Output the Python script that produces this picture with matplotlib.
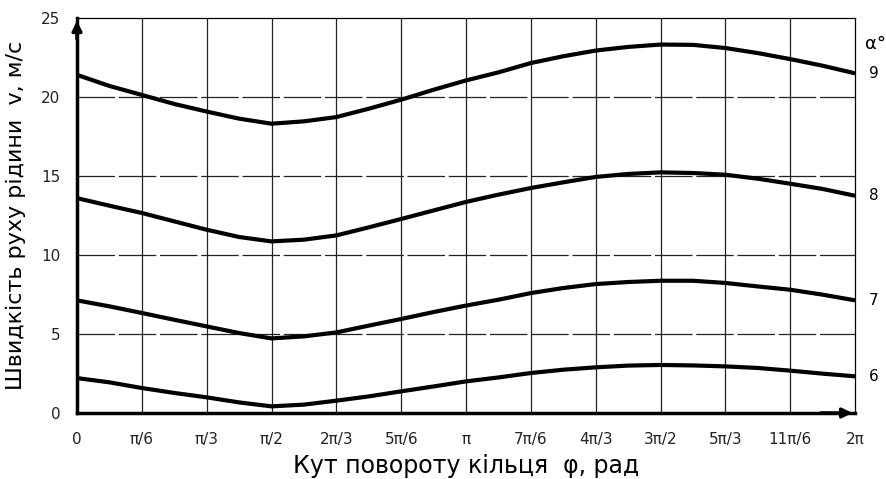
import numpy as np
import matplotlib.pyplot as plt

# phase angle sampled every pi/12 (25 points from 0 to 2*pi)
phi_steps = np.arange(25)
tick_labels = ["0", "π/6", "π/3", "π/2", "2π/3", "5π/6", "π",
               "7π/6", "4π/3", "3π/2", "5π/3", "11π/6", "2π"]

alpha_6 = [2.21, 1.94, 1.58, 1.27, 0.99, 0.67, 0.42, 0.53, 0.78, 1.05, 1.37, 1.68, 2.0,
           2.25, 2.53, 2.74, 2.89, 3.0, 3.04, 3.01, 2.95, 2.85, 2.68, 2.49, 2.32]
alpha_7 = [7.13, 6.75, 6.33, 5.9, 5.48, 5.06, 4.72, 4.85, 5.1, 5.53, 5.95, 6.39, 6.8,
           7.17, 7.59, 7.91, 8.16, 8.29, 8.37, 8.37, 8.23, 8.01, 7.8, 7.49, 7.13]
alpha_8 = [13.6, 13.12, 12.66, 12.13, 11.6, 11.14, 10.86, 10.97, 11.24, 11.75, 12.28, 12.82, 13.36,
           13.82, 14.24, 14.6, 14.94, 15.13, 15.23, 15.19, 15.08, 14.83, 14.51, 14.18, 13.75]
alpha_9 = [21.4, 20.7, 20.13, 19.56, 19.08, 18.63, 18.31, 18.46, 18.73, 19.26, 19.83, 20.46, 21.05,
           21.56, 22.15, 22.58, 22.94, 23.17, 23.32, 23.3, 23.1, 22.78, 22.4, 21.98, 21.5]

curves = [("6", alpha_6), ("7", alpha_7), ("8", alpha_8), ("9", alpha_9)]

phi = phi_steps * np.pi / 12
ticks = phi[::2]

fig = plt.figure(figsize=(8.87, 4.79), dpi=100)
ax = fig.add_axes([0.0868, 0.1378, 0.8772, 0.8246])

ax.set_xlim(0, 2 * np.pi)
ax.set_ylim(0, 25)

for x in ticks[1:-1]:
    ax.axvline(x, color="#222222", lw=0.9, zorder=1)
for y in [5, 10, 15, 20]:
    ax.axhline(y, color="#222222", lw=0.9, dashes=(30, 3), zorder=1)

for name, values in curves:
    ax.plot(phi, values, color="black", lw=3.0, solid_capstyle="butt",
            solid_joinstyle="round", zorder=3)
    ax.annotate(name, xy=(phi[-1], values[-1]), xytext=(10, 0),
                textcoords="offset points", va="center", ha="left", fontsize=11,
                annotation_clip=False)

ax.annotate("α°", xy=(phi[-1], alpha_9[-1]), xytext=(7, 21),
            textcoords="offset points", va="center", ha="left", fontsize=13,
            annotation_clip=False)

ax.set_xticks(ticks)
ax.set_xticklabels(tick_labels, fontsize=11)
ax.set_yticks([0, 5, 10, 15, 20, 25])
ax.tick_params(length=0, pad=14, labelsize=11, labelcolor="#222222")
ax.tick_params(axis="y", pad=12)

for side in ["top", "right"]:
    ax.spines[side].set_linewidth(0.9)
for side in ["left", "bottom"]:
    ax.spines[side].set_linewidth(2.5)

# axis arrows
ax.annotate("", xy=(0, 25), xytext=(0, 23.5),
            arrowprops=dict(arrowstyle="-|>", color="black", lw=2.5,
                            mutation_scale=14), annotation_clip=False)
ax.annotate("", xy=(2 * np.pi, 0), xytext=(2 * np.pi - 0.3, 0),
            arrowprops=dict(arrowstyle="-|>", color="black", lw=2.5,
                            mutation_scale=14), annotation_clip=False)

ax.set_ylabel("Швидкість руху рідини  v, м/с", fontsize=16, labelpad=11)
ax.set_xlabel("Кут повороту кільця  φ, рад", fontsize=17, labelpad=5)

fig.savefig("out.png", dpi=100)
